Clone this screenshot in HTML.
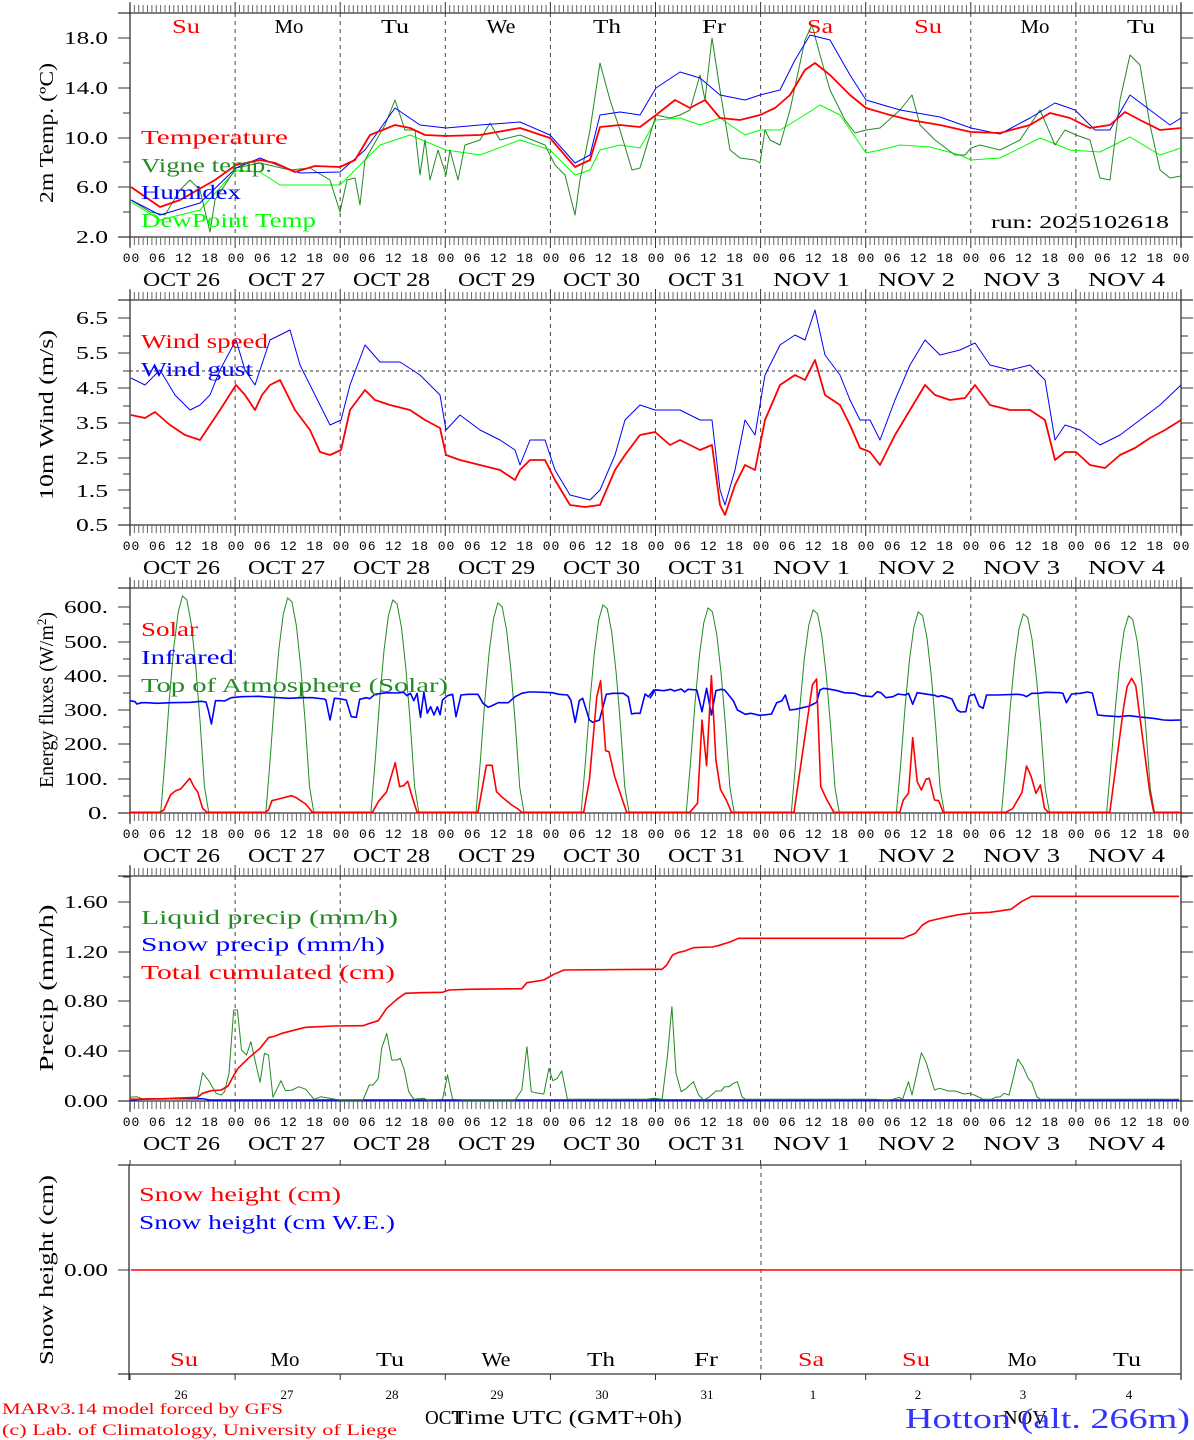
<!DOCTYPE html>
<html><head><meta charset="utf-8"><style>
html,body{margin:0;padding:0;background:#fff}
svg{display:block}
.s{font-family:"Liberation Serif",serif}
.m{font-family:"Liberation Mono",monospace;font-size:13px;letter-spacing:0.95px}
.yl{font-family:"Liberation Serif",serif;font-size:18px;text-anchor:end}
.dl{font-family:"Liberation Serif",serif;font-size:20px;text-anchor:middle;white-space:pre}
.lg{font-family:"Liberation Serif",serif;font-size:20px}
.at{font-family:"Liberation Serif",serif;font-size:20px;text-anchor:middle}
</style></head><body>
<svg id="c" width="1194" height="1440" viewBox="0 0 1194 1440" xmlns="http://www.w3.org/2000/svg">
<rect width="1194" height="1440" fill="#fff"/>
<g id="g"></g>
<g class="dl">
<text x="186" y="33" fill="#f00" textLength="28" lengthAdjust="spacingAndGlyphs">Su</text><text x="289" y="33" textLength="29" lengthAdjust="spacingAndGlyphs">Mo</text><text x="395" y="33" textLength="28" lengthAdjust="spacingAndGlyphs">Tu</text><text x="501" y="33" textLength="29" lengthAdjust="spacingAndGlyphs">We</text><text x="607" y="33" textLength="28" lengthAdjust="spacingAndGlyphs">Th</text><text x="714" y="33" textLength="24" lengthAdjust="spacingAndGlyphs">Fr</text><text x="820" y="33" fill="#f00" textLength="26" lengthAdjust="spacingAndGlyphs">Sa</text><text x="928" y="33" fill="#f00" textLength="28" lengthAdjust="spacingAndGlyphs">Su</text><text x="1035" y="33" textLength="29" lengthAdjust="spacingAndGlyphs">Mo</text><text x="1141" y="33" textLength="28" lengthAdjust="spacingAndGlyphs">Tu</text>
</g>
<text class="m" x="122.7" y="262">00 06 12 18 00 06 12 18 00 06 12 18 00 06 12 18 00 06 12 18 00 06 12 18 00 06 12 18 00 06 12 18 00 06 12 18 00 06 12 18 00</text>
<text class="m" x="122.7" y="550">00 06 12 18 00 06 12 18 00 06 12 18 00 06 12 18 00 06 12 18 00 06 12 18 00 06 12 18 00 06 12 18 00 06 12 18 00 06 12 18 00</text>
<text class="m" x="122.7" y="838">00 06 12 18 00 06 12 18 00 06 12 18 00 06 12 18 00 06 12 18 00 06 12 18 00 06 12 18 00 06 12 18 00 06 12 18 00 06 12 18 00</text>
<text class="m" x="122.7" y="1126">00 06 12 18 00 06 12 18 00 06 12 18 00 06 12 18 00 06 12 18 00 06 12 18 00 06 12 18 00 06 12 18 00 06 12 18 00 06 12 18 00</text>
<g class="dl">
<text x="181.5" y="286" textLength="77" lengthAdjust="spacingAndGlyphs">OCT  26</text><text x="286.5" y="286" textLength="77" lengthAdjust="spacingAndGlyphs">OCT  27</text><text x="391.5" y="286" textLength="77" lengthAdjust="spacingAndGlyphs">OCT  28</text><text x="496.5" y="286" textLength="77" lengthAdjust="spacingAndGlyphs">OCT  29</text><text x="601.5" y="286" textLength="77" lengthAdjust="spacingAndGlyphs">OCT  30</text><text x="706.5" y="286" textLength="77" lengthAdjust="spacingAndGlyphs">OCT  31</text><text x="811.5" y="286" textLength="77" lengthAdjust="spacingAndGlyphs">NOV   1</text><text x="916.5" y="286" textLength="77" lengthAdjust="spacingAndGlyphs">NOV   2</text><text x="1021.5" y="286" textLength="77" lengthAdjust="spacingAndGlyphs">NOV   3</text><text x="1126.5" y="286" textLength="77" lengthAdjust="spacingAndGlyphs">NOV   4</text>
<text x="181.5" y="574" textLength="77" lengthAdjust="spacingAndGlyphs">OCT  26</text><text x="286.5" y="574" textLength="77" lengthAdjust="spacingAndGlyphs">OCT  27</text><text x="391.5" y="574" textLength="77" lengthAdjust="spacingAndGlyphs">OCT  28</text><text x="496.5" y="574" textLength="77" lengthAdjust="spacingAndGlyphs">OCT  29</text><text x="601.5" y="574" textLength="77" lengthAdjust="spacingAndGlyphs">OCT  30</text><text x="706.5" y="574" textLength="77" lengthAdjust="spacingAndGlyphs">OCT  31</text><text x="811.5" y="574" textLength="77" lengthAdjust="spacingAndGlyphs">NOV   1</text><text x="916.5" y="574" textLength="77" lengthAdjust="spacingAndGlyphs">NOV   2</text><text x="1021.5" y="574" textLength="77" lengthAdjust="spacingAndGlyphs">NOV   3</text><text x="1126.5" y="574" textLength="77" lengthAdjust="spacingAndGlyphs">NOV   4</text>
<text x="181.5" y="862" textLength="77" lengthAdjust="spacingAndGlyphs">OCT  26</text><text x="286.5" y="862" textLength="77" lengthAdjust="spacingAndGlyphs">OCT  27</text><text x="391.5" y="862" textLength="77" lengthAdjust="spacingAndGlyphs">OCT  28</text><text x="496.5" y="862" textLength="77" lengthAdjust="spacingAndGlyphs">OCT  29</text><text x="601.5" y="862" textLength="77" lengthAdjust="spacingAndGlyphs">OCT  30</text><text x="706.5" y="862" textLength="77" lengthAdjust="spacingAndGlyphs">OCT  31</text><text x="811.5" y="862" textLength="77" lengthAdjust="spacingAndGlyphs">NOV   1</text><text x="916.5" y="862" textLength="77" lengthAdjust="spacingAndGlyphs">NOV   2</text><text x="1021.5" y="862" textLength="77" lengthAdjust="spacingAndGlyphs">NOV   3</text><text x="1126.5" y="862" textLength="77" lengthAdjust="spacingAndGlyphs">NOV   4</text>
<text x="181.5" y="1150" textLength="77" lengthAdjust="spacingAndGlyphs">OCT  26</text><text x="286.5" y="1150" textLength="77" lengthAdjust="spacingAndGlyphs">OCT  27</text><text x="391.5" y="1150" textLength="77" lengthAdjust="spacingAndGlyphs">OCT  28</text><text x="496.5" y="1150" textLength="77" lengthAdjust="spacingAndGlyphs">OCT  29</text><text x="601.5" y="1150" textLength="77" lengthAdjust="spacingAndGlyphs">OCT  30</text><text x="706.5" y="1150" textLength="77" lengthAdjust="spacingAndGlyphs">OCT  31</text><text x="811.5" y="1150" textLength="77" lengthAdjust="spacingAndGlyphs">NOV   1</text><text x="916.5" y="1150" textLength="77" lengthAdjust="spacingAndGlyphs">NOV   2</text><text x="1021.5" y="1150" textLength="77" lengthAdjust="spacingAndGlyphs">NOV   3</text><text x="1126.5" y="1150" textLength="77" lengthAdjust="spacingAndGlyphs">NOV   4</text>
</g>
<g class="yl">
<text x="108" y="44" textLength="44" lengthAdjust="spacingAndGlyphs">18.0</text><text x="108" y="94" textLength="44" lengthAdjust="spacingAndGlyphs">14.0</text><text x="108" y="144" textLength="44" lengthAdjust="spacingAndGlyphs">10.0</text><text x="108" y="193" textLength="32" lengthAdjust="spacingAndGlyphs">6.0</text><text x="108" y="243" textLength="32" lengthAdjust="spacingAndGlyphs">2.0</text>
<text x="108" y="324" textLength="32" lengthAdjust="spacingAndGlyphs">6.5</text><text x="108" y="359" textLength="32" lengthAdjust="spacingAndGlyphs">5.5</text><text x="108" y="394" textLength="32" lengthAdjust="spacingAndGlyphs">4.5</text><text x="108" y="429" textLength="32" lengthAdjust="spacingAndGlyphs">3.5</text><text x="108" y="464" textLength="32" lengthAdjust="spacingAndGlyphs">2.5</text><text x="108" y="497" textLength="32" lengthAdjust="spacingAndGlyphs">1.5</text><text x="108" y="531" textLength="32" lengthAdjust="spacingAndGlyphs">0.5</text>
<text x="108" y="613" textLength="44" lengthAdjust="spacingAndGlyphs">600.</text><text x="108" y="648" textLength="44" lengthAdjust="spacingAndGlyphs">500.</text><text x="108" y="682" textLength="44" lengthAdjust="spacingAndGlyphs">400.</text><text x="108" y="716" textLength="44" lengthAdjust="spacingAndGlyphs">300.</text><text x="108" y="750" textLength="44" lengthAdjust="spacingAndGlyphs">200.</text><text x="108" y="785" textLength="44" lengthAdjust="spacingAndGlyphs">100.</text><text x="108" y="819" textLength="20" lengthAdjust="spacingAndGlyphs">0.</text>
<text x="108" y="908" textLength="44" lengthAdjust="spacingAndGlyphs">1.60</text><text x="108" y="958" textLength="44" lengthAdjust="spacingAndGlyphs">1.20</text><text x="108" y="1007" textLength="44" lengthAdjust="spacingAndGlyphs">0.80</text><text x="108" y="1057" textLength="44" lengthAdjust="spacingAndGlyphs">0.40</text><text x="108" y="1107" textLength="44" lengthAdjust="spacingAndGlyphs">0.00</text>
<text x="108" y="1276" textLength="44" lengthAdjust="spacingAndGlyphs">0.00</text>
</g>
<g class="at">
<text transform="translate(53,133) rotate(-90)" textLength="140" lengthAdjust="spacingAndGlyphs">2m Temp. (ºC)</text>
<text transform="translate(53,415) rotate(-90)" textLength="170" lengthAdjust="spacingAndGlyphs">10m Wind (m/s)</text>
<text transform="translate(53,700) rotate(-90)">Energy fluxes (W/m<tspan font-size="13" dy="-7">2</tspan><tspan dy="7">)</tspan></text>
<text transform="translate(53,988) rotate(-90)" textLength="167" lengthAdjust="spacingAndGlyphs">Precip (mm/h)</text>
<text transform="translate(53,1270) rotate(-90)" textLength="190" lengthAdjust="spacingAndGlyphs">Snow height (cm)</text>
</g>
<g class="lg">
<text x="141" y="144" fill="#f00" textLength="147" lengthAdjust="spacingAndGlyphs">Temperature</text>
<text x="141" y="172" fill="#228B22" textLength="131" lengthAdjust="spacingAndGlyphs">Vigne temp.</text>
<text x="141" y="199" fill="#00f" textLength="100" lengthAdjust="spacingAndGlyphs">Humidex</text>
<text x="141" y="227" fill="#0f0" textLength="175" lengthAdjust="spacingAndGlyphs">DewPoint Temp</text>
<text x="991" y="228" font-size="18" fill="#000" textLength="178" lengthAdjust="spacingAndGlyphs">run: 2025102618</text>
<text x="141" y="348" fill="#f00" textLength="127" lengthAdjust="spacingAndGlyphs">Wind speed</text>
<text x="141" y="376" fill="#00f" textLength="112" lengthAdjust="spacingAndGlyphs">Wind gust</text>
<text x="141" y="636" fill="#f00" textLength="57" lengthAdjust="spacingAndGlyphs">Solar</text>
<text x="141" y="664" fill="#00f" textLength="93" lengthAdjust="spacingAndGlyphs">Infrared</text>
<text x="141" y="692" fill="#228B22" textLength="307" lengthAdjust="spacingAndGlyphs">Top of Atmosphere (Solar)</text>
<text x="141" y="924" fill="#228B22" textLength="257" lengthAdjust="spacingAndGlyphs">Liquid precip (mm/h)</text>
<text x="141" y="951" fill="#00f" textLength="244" lengthAdjust="spacingAndGlyphs">Snow precip (mm/h)</text>
<text x="141" y="979" fill="#f00" textLength="254" lengthAdjust="spacingAndGlyphs">Total cumulated (cm)</text>
<text x="139" y="1201" fill="#f00" textLength="202" lengthAdjust="spacingAndGlyphs">Snow height (cm)</text>
<text x="139" y="1229" fill="#00f" textLength="256" lengthAdjust="spacingAndGlyphs">Snow height (cm W.E.)</text>
</g>
<g class="dl">
<text x="184" y="1366" fill="#f00" textLength="28" lengthAdjust="spacingAndGlyphs">Su</text><text x="285" y="1366" textLength="29" lengthAdjust="spacingAndGlyphs">Mo</text><text x="390" y="1366" textLength="28" lengthAdjust="spacingAndGlyphs">Tu</text><text x="496" y="1366" textLength="29" lengthAdjust="spacingAndGlyphs">We</text><text x="601" y="1366" textLength="28" lengthAdjust="spacingAndGlyphs">Th</text><text x="706" y="1366" textLength="24" lengthAdjust="spacingAndGlyphs">Fr</text><text x="811" y="1366" fill="#f00" textLength="26" lengthAdjust="spacingAndGlyphs">Sa</text><text x="916" y="1366" fill="#f00" textLength="28" lengthAdjust="spacingAndGlyphs">Su</text><text x="1022" y="1366" textLength="29" lengthAdjust="spacingAndGlyphs">Mo</text><text x="1127" y="1366" textLength="28" lengthAdjust="spacingAndGlyphs">Tu</text>
</g>
<g class="s" font-size="13" text-anchor="middle">
<text x="181" y="1399">26</text><text x="287" y="1399">27</text><text x="392" y="1399">28</text><text x="497" y="1399">29</text><text x="602" y="1399">30</text><text x="707" y="1399">31</text><text x="813" y="1399">1</text><text x="918" y="1399">2</text><text x="1023" y="1399">3</text><text x="1129" y="1399">4</text>
</g>
<text class="s" x="425" y="1424" font-size="20" textLength="38" lengthAdjust="spacingAndGlyphs">OCT</text>
<text class="s" x="452" y="1424" font-size="20" textLength="230" lengthAdjust="spacingAndGlyphs">Time UTC (GMT+0h)</text>
<text class="s" x="1003" y="1424" font-size="20" textLength="44" lengthAdjust="spacingAndGlyphs">NOV</text>
<text class="s" x="2" y="1414" font-size="16" fill="#f00" textLength="281" lengthAdjust="spacingAndGlyphs">MARv3.14 model forced by GFS</text>
<text class="s" x="2" y="1435" font-size="16" fill="#f00" textLength="395" lengthAdjust="spacingAndGlyphs">(c) Lab. of Climatology, University of Liege</text>
<text class="s" x="905" y="1428" font-size="29" fill="#33f" textLength="285" lengthAdjust="spacingAndGlyphs">Hotton (alt. 266m)</text>
</svg>
<script>
(function(){
var NS="http://www.w3.org/2000/svg",g=document.getElementById("g");
function el(t,a){var e=document.createElementNS(NS,t);for(var k in a)e.setAttribute(k,a[k]);g.appendChild(e);return e;}
function line(x1,y1,x2,y2,c,w,d){var a={x1:x1,y1:y1,x2:x2,y2:y2,stroke:c||"#000","stroke-width":w||1};if(d)a["stroke-dasharray"]=d;el("line",a);}
function pl(pts,c,w){el("polyline",{points:pts.map(function(p){return p[0].toFixed(1)+","+p[1].toFixed(1)}).join(" "),fill:"none",stroke:c,"stroke-width":w||1,"stroke-linejoin":"round"});}
function fl(a){var r=[];for(var i=0;i<a.length;i+=2)r.push([a[i],a[i+1]]);return r;}
var X0=130,X1=1181,DW=(X1-X0)/10;
var tops=[13,300,588,876],bots=[237,525,813,1101];
for(var p=0;p<4;p++){
 var T=tops[p],B=bots[p];
 line(118,T,1193,T,"#333",1.3);line(118,B,1193,B,"#333",1.3);
 line(X0,T-10,X0,B+10,"#333",1.3);line(X1,T-10,X1,B+10,"#333",1.3);
 for(var h=0;h<=240;h++){var x=X0+h*DW/24;var maj=h%24==0;
  line(x,T-(maj?11:8),x,T,maj?"#333":"#666",1);line(x,B,x,B+(maj?11:8),maj?"#333":"#666",1);}
 for(var d=1;d<10;d++){var x=X0+d*DW;line(x,T,x,B,"#444",1,"4,4");}
}
function yt(ys,L){ys.forEach(function(y){line(130-L,y,130,y,"#333",1);line(1181,y,1181+L,y,"#333",1);});}
yt([38,88,138,187,237],12);yt([63,113,162,212],7);
yt([318,353,388,423,458,490,525],12);yt([336,371,406,440,474,508],7);
yt([607,642,676,710,744,779,813],12);yt([624,659,693,727,762,796],7);
yt([902,952,1001,1051,1101],12);yt([877,927,977,1026,1076],7);
line(118,1165,1181,1165,"#333",1.3);line(118,1374,1181,1374,"#333",1.3);
line(129,1165,129,1380,"#333",1.3);line(1181,1165,1181,1380,"#333",1.3);
for(var d=0;d<=10;d++){var x=X0+d*DW;line(x,1160,x,1165,"#333",1);line(x,1374,x,1380,"#333",1);}
line(761,1165,761,1374,"#444",1,"4,4");
yt([1270],12);
pl([[131,1270],[1181,1270]],"#f00",1.5);
line(130,371,1181,371,"#333",1,"3,3");
pl(fl([131,202,160,220,200,210,236,170,260,172,280,185,340,185,380,145,410,135,446,150,480,155,520,140,550,150,575,175,590,170,600,150,620,145,640,148,656,120,680,118,700,125,720,118,745,135,760,130,780,130,800,118,820,105,840,115,866,153,880,150,900,145,930,147,960,155,971,160,1000,158,1040,138,1070,150,1100,152,1130,137,1160,155,1181,148]),"#0f0",1);
pl(fl([131,200,150,212,165,215,180,190,190,180,200,190,210,232,215,200,236,168,260,163,290,170,310,168,330,180,340,212,347,180,355,178,360,205,365,160,385,125,395,100,405,130,415,130,420,175,425,140,430,180,438,150,446,175,450,150,458,180,465,145,480,140,490,123,500,140,520,135,545,145,555,165,565,175,575,215,580,180,590,130,600,63,610,100,620,130,632,170,640,168,656,115,670,118,680,115,690,110,700,75,705,100,712,38,720,90,730,150,740,158,755,160,760,163,765,130,770,140,780,145,790,110,805,40,812,25,820,55,830,90,845,120,855,133,866,130,880,128,900,110,912,95,920,125,935,140,955,155,965,155,971,148,980,145,1000,150,1020,140,1040,110,1055,145,1065,130,1076,135,1090,140,1100,178,1110,180,1120,100,1130,55,1140,65,1150,125,1160,170,1170,178,1181,176]),"#228B22",1);
pl(fl([131,200,160,215,200,203,236,168,260,158,280,166,300,173,340,172,365,150,395,108,420,125,446,128,480,125,520,122,550,135,575,163,590,155,600,115,620,112,640,115,656,88,680,72,700,78,720,95,745,100,760,95,780,90,795,60,810,35,830,40,850,75,866,100,900,110,940,117,971,128,1000,134,1030,118,1055,103,1075,110,1095,130,1110,130,1130,95,1150,110,1170,125,1181,118]),"#00f",1);
pl(fl([131,187,160,207,180,200,215,180,236,165,260,160,275,163,295,172,315,166,340,167,355,160,370,135,395,125,410,128,425,135,446,136,480,135,520,128,550,138,575,167,590,160,600,127,620,125,640,127,656,115,675,100,690,108,705,100,720,118,740,120,760,115,775,108,790,95,805,70,815,63,830,75,850,95,866,108,890,115,910,120,940,125,971,132,1000,133,1030,125,1050,113,1070,118,1090,128,1110,125,1125,112,1140,120,1160,130,1181,128]),"#f00",1.8);
pl(fl([131,378,145,385,160,370,175,395,190,410,200,405,210,395,220,370,236,340,245,370,255,385,270,340,280,335,290,330,300,365,315,395,330,425,341,420,350,385,365,345,380,362,400,362,420,375,440,395,446,430,460,415,480,430,500,440,515,450,520,465,530,440,545,440,555,470,570,495,590,500,600,490,615,455,625,420,640,405,655,410,670,410,680,410,700,420,712,420,720,490,725,505,735,470,745,420,755,435,765,375,780,345,795,335,805,340,815,310,825,355,840,375,850,400,860,420,870,420,880,440,895,400,910,365,925,340,940,355,960,350,975,343,990,365,1010,370,1030,365,1045,380,1055,440,1065,425,1080,430,1100,445,1120,435,1140,420,1160,405,1181,385]),"#00f",1);
pl(fl([131,415,145,418,155,412,170,425,185,435,200,440,210,425,220,410,236,385,245,395,255,410,262,395,270,385,280,380,295,410,310,430,320,452,330,455,341,450,350,410,365,390,375,400,390,405,410,410,425,420,440,428,446,455,460,460,480,465,500,470,515,480,520,470,530,460,545,460,555,480,570,505,585,507,600,505,615,470,625,455,640,435,655,432,670,445,680,440,700,450,712,445,720,505,725,515,735,485,745,465,755,470,765,420,780,385,795,375,805,380,815,360,825,395,840,405,850,425,860,448,870,452,880,465,895,435,910,410,925,385,935,395,950,400,965,398,975,385,990,405,1010,410,1030,410,1045,420,1055,460,1065,452,1076,452,1090,465,1105,468,1120,455,1135,448,1150,438,1165,430,1181,420]),"#f00",1.8);
function L3(a){return fl(a).map(function(p){return [130+p[0]*0.3378,580+p[1]/3];});}
function R3(a){return fl(a).map(function(p){return [650+p[0]*0.347,580+p[1]/3];});}
function L4(a){return fl(a).map(function(p){return [130+p[0]*0.3378,870+p[1]/3];});}
function R4(a){return fl(a).map(function(p){return [650+p[0]*0.347,870+p[1]/3];});}
var peaks=[595,597,599,602,604,607,609,611,613,615],toa=[];
for(var d=0;d<10;d++){for(var h=0;h<24;h++){var x=X0+d*DW+h*DW/24;var t=(h-7.2)/10.2;var v=(t>0&&t<1)?Math.sin(Math.PI*t):0;toa.push([x,813-(813-peaks[d])*v]);}}
toa.push([X1,813]);
pl(toa,"#228B22",1);
pl(L3([0,362,15,365,20,372,35,368,50,368,80,370,120,368,180,367,210,364,225,366,233,395,241,432,253,362,270,362,280,363,300,353,330,350,380,349,420,352,470,355,510,353,540,353,575,357,580,360,592,420,605,355,620,356,640,360,655,410,670,412,680,358,700,353,710,356,725,343,760,338,790,339,810,337,820,347,830,340,840,362,850,340,860,412,870,337,880,400,890,380,900,405,910,380,918,404,925,360,940,347,955,343,965,410,980,345,1000,343,1030,343,1045,370,1060,382,1070,378,1090,368,1120,368,1140,350,1160,340,1180,336,1200,336,1250,338,1270,343,1295,345,1305,360,1318,427,1330,362,1340,355,1360,420,1370,427,1390,420,1410,343,1430,340,1460,340,1475,350,1485,402,1495,400,1510,400,1525,342,1535,350,1550,330,1568,330]),"#00f",1.6);
pl(R3([0,355,15,330,40,332,60,328,70,333,80,330,90,327,100,336,110,328,135,330,150,395,163,325,177,405,190,332,205,328,215,330,225,343,240,362,252,390,275,403,290,400,300,402,315,406,335,404,350,402,365,368,380,362,390,345,403,390,420,388,460,378,480,367,490,330,500,325,520,328,540,332,560,338,590,340,610,347,640,350,655,335,665,338,680,353,700,350,715,342,735,345,745,340,757,373,770,338,800,343,820,346,830,350,840,347,860,353,870,357,885,390,895,396,910,395,920,348,935,343,948,378,960,385,970,345,1000,345,1060,343,1075,345,1085,350,1100,340,1120,340,1140,337,1180,338,1190,340,1200,368,1215,342,1240,340,1260,336,1275,339,1290,405,1310,407,1350,410,1380,407,1420,412,1450,415,1480,420,1500,421,1530,420]),"#00f",1.6);
pl(L3([0,697,88,697,100,690,120,645,135,632,150,627,177,595,190,622,200,635,215,685,228,697,400,697,410,690,420,662,440,657,460,652,478,647,490,652,520,672,540,697,718,697,735,665,760,635,785,548,798,620,810,617,822,604,835,650,850,697,1030,697,1055,556,1072,556,1085,635,1100,650,1130,675,1150,688,1160,697,1343,697,1360,600,1382,350,1393,302,1408,512,1418,515,1435,590,1470,697,1568,697]),"#f00",1.6);
pl(R3([0,697,115,697,137,670,150,420,163,557,177,287,190,540,203,628,220,660,235,697,415,697,445,480,468,315,480,297,492,620,510,660,530,697,720,697,730,660,745,640,757,473,770,605,782,630,795,598,805,595,820,660,832,662,845,697,1025,697,1045,686,1072,637,1085,558,1098,588,1112,640,1125,615,1137,685,1148,697,1325,697,1365,380,1375,320,1388,295,1400,318,1440,635,1452,697,1530,697]),"#f00",1.6);
pl(L4([0,690,60,686,150,686,215,686,235,690,1568,690]),"#00f",1.5);
pl(R4([0,690,1525,690]),"#00f",1.5);
pl(L4([0,682,20,680,40,688,100,688,200,683,215,608,235,635,255,670,270,675,280,665,293,610,307,420,318,420,330,540,345,555,358,515,372,580,385,637,398,550,410,555,423,682,447,632,460,662,480,660,500,650,520,658,545,688,565,680,590,685,620,690,690,690,708,645,720,645,735,625,745,535,760,490,775,570,790,570,800,565,812,600,825,665,840,688,870,685,880,690,925,688,940,615,955,688,990,690,1140,690,1160,660,1175,530,1188,665,1200,668,1225,672,1240,595,1252,632,1265,625,1278,603,1295,688,1530,688,1550,685,1568,688]),"#228B22",1);
pl(R4([0,688,15,685,35,688,50,560,63,410,75,610,90,665,105,655,125,635,140,675,155,690,170,682,190,663,205,663,215,650,228,650,240,640,252,635,265,680,275,688,650,688,680,690,700,688,718,682,728,688,745,635,755,675,782,548,795,575,820,660,835,655,860,663,880,663,905,672,920,670,935,675,960,688,985,688,995,682,1010,680,1020,670,1035,675,1060,567,1075,590,1090,625,1100,637,1115,680,1125,688,1525,688]),"#228B22",1);
pl(L4([0,688,100,686,200,682,215,670,240,662,270,660,290,648,305,620,320,595,350,565,385,535,410,503,430,498,450,490,480,482,520,472,560,470,600,468,690,467,710,460,735,452,760,415,790,388,815,370,860,368,925,367,945,360,1000,358,1160,356,1175,338,1225,330,1255,313,1285,300,1568,298]),"#f00",1.6);
pl(R4([0,298,35,298,48,285,65,255,80,248,100,243,125,233,150,232,180,231,200,226,230,216,255,205,730,205,745,198,765,190,785,165,805,153,830,147,860,140,890,134,920,130,980,127,1040,118,1070,95,1100,79,1525,79]),"#f00",1.6);
})();
</script>
</body></html>
